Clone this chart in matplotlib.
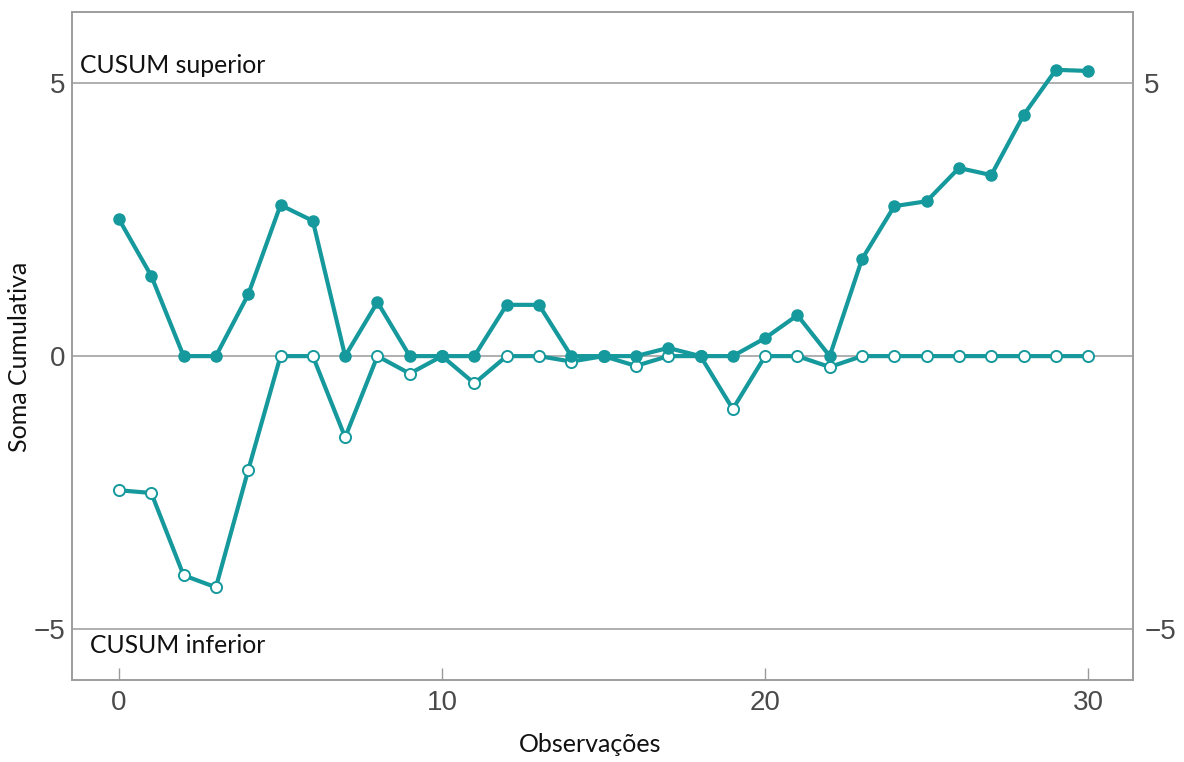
import matplotlib.pyplot as plt

# CUSUM tabular: upper (C+) and lower (C-) cumulative sums per observation
obs = list(range(31))
cusum_upper = [2.51, 1.47, 0.0, 0.0, 1.13, 2.77, 2.48, 0.0, 0.99, 0.0,
               0.0, 0.0, 0.94, 0.94, 0.0, 0.0, 0.0, 0.15, 0.0, 0.0,
               0.33, 0.75, 0.0, 1.78, 2.75, 2.84, 3.45, 3.32, 4.42, 5.25,
               5.23]
cusum_lower = [-2.46, -2.51, -4.02, -4.24, -2.09, 0.0, 0.0, -1.49, 0.0, -0.32,
               0.0, -0.5, 0.0, 0.0, -0.1, 0.0, -0.18, 0.0, 0.0, -0.97,
               0.0, 0.0, -0.2, 0.0, 0.0, 0.0, 0.0, 0.0, 0.0, 0.0,
               0.0]
limit = 5

teal = "#16999c"
grid_gray = "#9a9a9a"
tick_gray = "#4a4a4a"

fig = plt.figure(figsize=(11.84, 7.62), dpi=100)
ax = fig.add_axes([0.0608, 0.1076, 0.8962, 0.8766])

for y in (limit, 0, -limit):
    ax.axhline(y, color=grid_gray, linewidth=1.1, zorder=1)

ax.plot(obs, cusum_lower, color=teal, linewidth=3, marker="o",
        markersize=8, markerfacecolor="white", markeredgecolor=teal,
        markeredgewidth=1.4, zorder=3)
ax.plot(obs, cusum_upper, color=teal, linewidth=3, marker="o",
        markersize=8, markerfacecolor=teal, markeredgecolor=teal, zorder=4)

ax.set_xlim(-1.455, 31.39)
ax.set_ylim(-5.94, 6.31)

tick_font = ["Liberation Sans", "DejaVu Sans"]
ax.set_xticks([0, 10, 20, 30])
ax.set_yticks([-5, 0, 5])
ax.set_yticklabels(["\u22125", "0", "5"])
ax.tick_params(axis="x", direction="in", length=9, width=1, color=grid_gray,
               labelsize=20, labelcolor=tick_gray, pad=7)
ax.tick_params(axis="y", length=0, labelsize=20, labelcolor=tick_gray, pad=5)

ax2 = ax.twinx()
ax2.set_ylim(ax.get_ylim())
ax2.set_yticks([-5, 5])
ax2.set_yticklabels(["\u22125", "5"])
ax2.tick_params(axis="y", length=0, labelsize=20, labelcolor=tick_gray, pad=8)

for a in (ax, ax2):
    for lbl in a.get_xticklabels() + a.get_yticklabels():
        lbl.set_family(tick_font)
    for side in a.spines.values():
        side.set_color(grid_gray)
        side.set_linewidth(1.1)

label_font = ["Lato", "DejaVu Sans"]
ax.text(-1.2, limit + 0.12, "CUSUM superior", fontsize=17.8, family=label_font,
        color="#111111", va="bottom", ha="left")
ax.text(-0.9, -limit - 0.1, "CUSUM inferior", fontsize=17.8, family=label_font,
        color="#111111", va="top", ha="left")

fig.text(590 / 1184, 1 - 745 / 762, "Observações", fontsize=18,
         family=label_font, color="#111111", ha="center", va="center")
fig.text(20 / 1184, 1 - 357 / 762, "Soma Cumulativa", fontsize=18,
         family=label_font, color="#111111", ha="center", va="center",
         rotation=90)

fig.savefig("out.png", dpi=100)
